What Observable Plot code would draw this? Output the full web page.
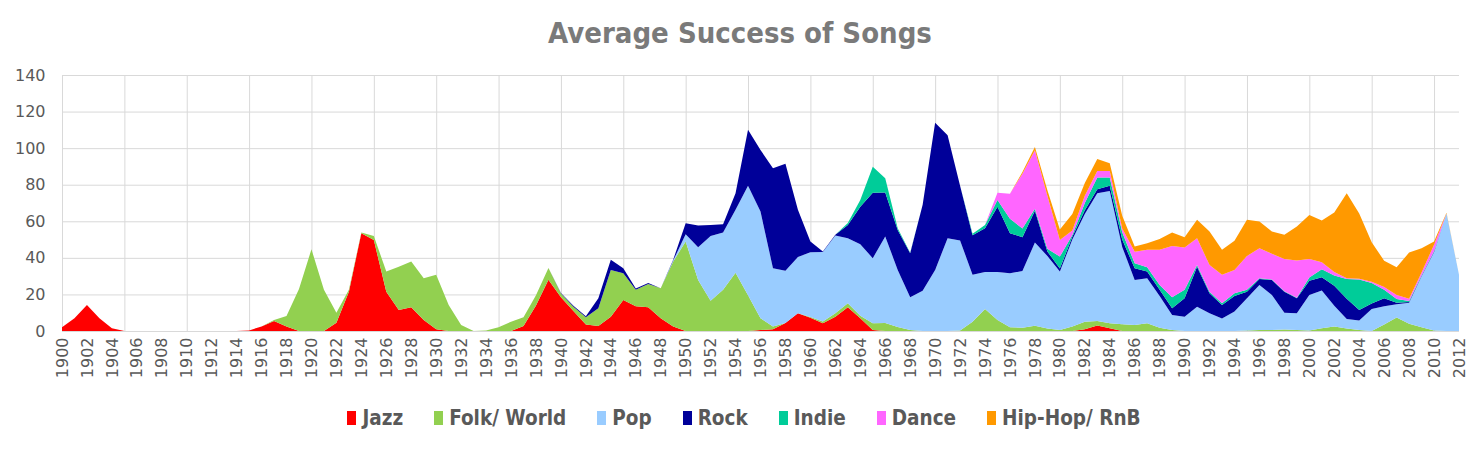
<!DOCTYPE html>
<html>
<head>
<meta charset="utf-8">
<script src="https://cdn.jsdelivr.net/npm/d3@7"></script>
<script src="https://cdn.jsdelivr.net/npm/@observablehq/plot@0.6"></script>
<style>
  html, body { margin: 0; padding: 0; background: #fff; }
  #wrap { width: 1480px; height: 451px; position: relative; overflow: hidden; }
  #title { height: 55px; line-height: 66px; text-align: center; font-family: "DejaVu Sans Condensed", "DejaVu Sans", sans-serif; font-weight: bold; font-size: 29px; color: #7a7a7a; overflow: visible; }
  #chart svg { display: block; }
  #legend { height: 36px; display: flex; justify-content: center; align-items: center; font-family: "DejaVu Sans Condensed", "DejaVu Sans", sans-serif; font-weight: bold; font-size: 20.5px; color: #595959; gap: 31px; padding-left: 8px; }
  .item { display: flex; align-items: center; }
  .sw { width: 9px; height: 14px; margin-right: 6px; display: inline-block; }
</style>
</head>
<body>
<div id="wrap">
  <div id="title">Average Success of Songs</div>
  <div id="chart"></div>
  <div id="legend"></div>
</div>
<script>
// ---- Data ----
const startYear = 1900;
const endYear = 2012;
const seriesNames = ["Jazz", "Folk/ World", "Pop", "Rock", "Indie", "Dance", "Hip-Hop/ RnB"];
const seriesColors = ["#FF0000", "#92D050", "#99CCFF", "#000099", "#00CC99", "#FF66FF", "#FF9900"];

const jazz = [
  2, 7, 14.2, 7, 1.5, 0, 0, 0, 0, 0,
  0, 0, 0, 0, 0, 0.3, 2.5, 5.5, 2.5, 0,
  0, 0, 4.5, 21.5, 53.5, 49.8, 21.5, 11.5, 13, 6,
  1, 0, 0, 0, 0, 0, 0, 2.7, 14, 28,
  18.5, 11, 3.5, 2.7, 7.8, 17, 13.5, 13, 7, 2.4,
  0, 0, 0, 0, 0, 0, 0.5, 1, 4.4, 9.7,
  7.3, 4.2, 7.8, 13, 7, 0.5, 0, 0, 0, 0,
  0, 0, 0, 0, 0, 0, 0, 0, 0, 0,
  0, 0, 1, 3, 1.5, 0, 0, 0, 0, 0,
  0, 0, 0, 0, 0, 0, 0, 0, 0, 0,
  0, 0, 0, 0, 0, 0, 0, 0, 0, 0,
  0, 0, 0
];
const folk = [
  0, 0, 0, 0, 0, 0, 0, 0, 0, 0,
  0, 0, 0, 0, 0, 0, 0, 0.5, 5.7, 23,
  44.7, 22.5, 5.5, 1, 0.3, 2.2, 11, 23.7, 25, 22.8,
  29.7, 14.2, 3.3, 0, 0.3, 2, 5.1, 4.8, 5.5, 6.4,
  2, 2.3, 4, 9.7, 25.6, 14.6, 9, 12.7, 16.4, 35.6,
  48.9, 27.9, 16.6, 22.5, 31.9, 19.5, 6.5, 1.4, 0, 0,
  0.3, 1, 1.9, 2.2, 1.3, 3.7, 4.4, 2.2, 0.5, 0,
  0, 0, 0.3, 5, 12, 6, 2, 1.8, 2.9, 1.3,
  0.5, 2.4, 4, 2.5, 2.7, 3.7, 3.3, 4.2, 1.8, 0.5,
  0, 0, 0, 0, 0, 0.3, 0.5, 0.5, 0.8, 0.5,
  0.3, 1.5, 2.4, 1.3, 0.5, 0, 3.5, 7.4, 4, 2,
  0.3, 0, 0
];
const pop = [
  0, 0, 0, 0, 0, 0, 0, 0, 0, 0,
  0, 0, 0, 0, 0, 0, 0, 0, 0, 0,
  0, 0, 0, 0, 0, 0, 0, 0, 0, 0,
  0, 0, 0, 0, 0, 0, 0, 0, 0, 0,
  0, 0, 0, 0, 0, 0, 0, 0, 0, 0.5,
  4, 17.9, 35.4, 31.4, 34.4, 59.9, 58.3, 31.9, 28.6, 30.8,
  35.4, 38, 42.5, 35.5, 39.2, 35.6, 47.3, 31.2, 17.9, 22,
  33.4, 50.7, 49.2, 25.8, 20.3, 26.3, 29.6, 31, 45.5, 39.7,
  32, 47.6, 59, 69.9, 72.3, 42.3, 24.6, 24.6, 17.4, 8.3,
  7.8, 13.3, 9.7, 6.9, 10.6, 17.6, 24.7, 19.2, 9.2, 9.2,
  19.4, 20.6, 11.4, 5.3, 5.3, 12, 10, 7.2, 11.5, 28,
  42.8, 64.3, 30.7
];
const rock = [
  0, 0, 0, 0, 0, 0, 0, 0, 0, 0,
  0, 0, 0, 0, 0, 0, 0, 0, 0, 0,
  0, 0, 0, 0, 0, 0, 0, 0, 0, 0,
  0, 0, 0, 0, 0, 0, 0, 0, 0, 0,
  0.3, 0.5, 0.5, 5.5, 5.5, 2.7, 0.8, 0.5, 0, 0.5,
  6, 11.9, 6, 4.5, 9.1, 30.6, 33.7, 54.7, 58.5, 25.8,
  6, 0.3, 0.4, 7.3, 20.5, 35.8, 24, 21.9, 24.1, 47,
  80.5, 56.4, 30, 21.6, 23.9, 35.7, 21.9, 18.5, 17.3, 2.5,
  1.7, 1.5, 2, 2.1, 3, 4, 6.4, 3.7, 3.3, 3.6,
  10.1, 21.9, 10.9, 7.3, 8.6, 3.6, 3.3, 8.2, 11.5, 8.2,
  7.8, 7.3, 10.9, 11.1, 5.7, 3, 4.4, 0.9, 0.4, 0.2,
  0.3, 0, 0
];
const indie = [
  0, 0, 0, 0, 0, 0, 0, 0, 0, 0,
  0, 0, 0, 0, 0, 0, 0, 0, 0, 0,
  0, 0, 0, 0, 0, 0, 0, 0, 0, 0,
  0, 0, 0, 0, 0, 0, 0, 0, 0, 0,
  0, 0, 0, 0, 0, 0, 0, 0, 0, 0,
  0, 0, 0, 0, 0, 0, 0, 0, 0, 0,
  0, 0, 0, 1, 3.6, 14.2, 7.8, 0.9, 0.3, 0,
  0, 0, 0, 0.8, 1.8, 3.7, 7.9, 4.7, 1.2, 1.5,
  6.5, 1, 4, 6.5, 4.5, 4, 2.7, 2.4, 2.7, 6,
  4.6, 0.9, 0.9, 1, 1.4, 1, 0.3, 0.2, 0.2, 0.3,
  1.8, 4.4, 5.7, 10.8, 16.7, 11.3, 4.6, 2, 0.5, 0.3,
  0.3, 0, 0
];
const dance = [
  0, 0, 0, 0, 0, 0, 0, 0, 0, 0,
  0, 0, 0, 0, 0, 0, 0, 0, 0, 0,
  0, 0, 0, 0, 0, 0, 0, 0, 0, 0,
  0, 0, 0, 0, 0, 0, 0, 0, 0, 0,
  0, 0, 0, 0, 0, 0, 0, 0, 0, 0,
  0, 0, 0, 0, 0, 0, 0, 0, 0, 0,
  0, 0, 0, 0, 0, 0, 0, 0, 0, 0,
  0, 0, 0, 0, 0, 3.9, 13.7, 30, 31.9, 29,
  9.1, 2.5, 4, 3.5, 3.5, 2, 6.4, 9.5, 19.2, 28.1,
  23.1, 14.6, 14.6, 15.5, 12.8, 18.5, 16.5, 14.1, 17.7, 20.3,
  10.1, 3.8, 1.9, 0.3, 0.4, 0.7, 1.5, 2.2, 1.3, 1.5,
  3.5, 0, 0
];
const hiphop = [
  0, 0, 0, 0, 0, 0, 0, 0, 0, 0,
  0, 0, 0, 0, 0, 0, 0, 0, 0, 0,
  0, 0, 0, 0, 0, 0, 0, 0, 0, 0,
  0, 0, 0, 0, 0, 0, 0, 0, 0, 0,
  0, 0, 0, 0, 0, 0, 0, 0, 0, 0,
  0, 0, 0, 0, 0, 0, 0, 0, 0, 0,
  0, 0, 0, 0, 0, 0, 0, 0, 0, 0,
  0, 0, 0, 0, 0, 0, 0, 1, 1.8, 3,
  5.7, 9, 7, 6.5, 4.3, 7, 2.8, 3.6, 5.9, 7.4,
  5.7, 10.1, 18.3, 13.7, 15.9, 19.8, 14.6, 12.2, 13.2, 18.6,
  24.1, 22.8, 32.5, 46.6, 35.6, 21.6, 14.4, 15.2, 25.2, 13.3,
  1.8, 0.4, 0
];
const yTicks = [0, 20, 40, 60, 80, 100, 120, 140];

// ---- Build table ----
const years = d3.range(startYear, endYear + 1);
const seriesValues = [jazz, folk, pop, rock, indie, dance, hiphop];
const rows = [];
seriesNames.forEach((name, si) => {
  years.forEach((yr, i) => rows.push({ year: yr, genre: name, value: seriesValues[si][i] }));
});
const labelYears = years.filter(y => (y - startYear) % 2 === 0);
const gridYears = years.filter(y => (y - startYear) % 5 === 0);

const chart = Plot.plot({
  width: 1480,
  height: 345,
  marginTop: 20,
  marginBottom: 69,
  marginLeft: 62,
  marginRight: 21,
  style: { fontFamily: "DejaVu Sans, sans-serif", fontSize: "16px", color: "#595959", background: "#fff" },
  x: { domain: [startYear, endYear], label: null },
  y: { domain: [0, 140], label: null },
  color: { domain: seriesNames, range: seriesColors },
  marks: [
    Plot.ruleY(yTicks, { x1: startYear, x2: endYear, y: d => d, stroke: "#d9d9d9", strokeWidth: 1 }),
    Plot.ruleX(gridYears, { x: d => d, y1: 0, y2: 140, stroke: "#d9d9d9", strokeWidth: 1 }),
    Plot.areaY(rows, { x: "year", y: "value", z: "genre", fill: "genre", curve: "linear" }),
    Plot.axisY({ ticks: yTicks, tickSize: 0, tickPadding: 17, label: null, fontSize: 16 }),
    Plot.axisX({ ticks: labelYears, tickSize: 0, tickPadding: 6, tickRotate: -90, tickFormat: d => String(d), label: null, fontSize: 16 })
  ]
});
document.getElementById("chart").appendChild(chart);

const legend = document.getElementById("legend");
seriesNames.forEach((name, i) => {
  const it = document.createElement("div");
  it.className = "item";
  const sw = document.createElement("span");
  sw.className = "sw";
  sw.style.background = seriesColors[i];
  const tx = document.createElement("span");
  tx.textContent = name;
  it.appendChild(sw);
  it.appendChild(tx);
  legend.appendChild(it);
});
</script>
</body>
</html>
